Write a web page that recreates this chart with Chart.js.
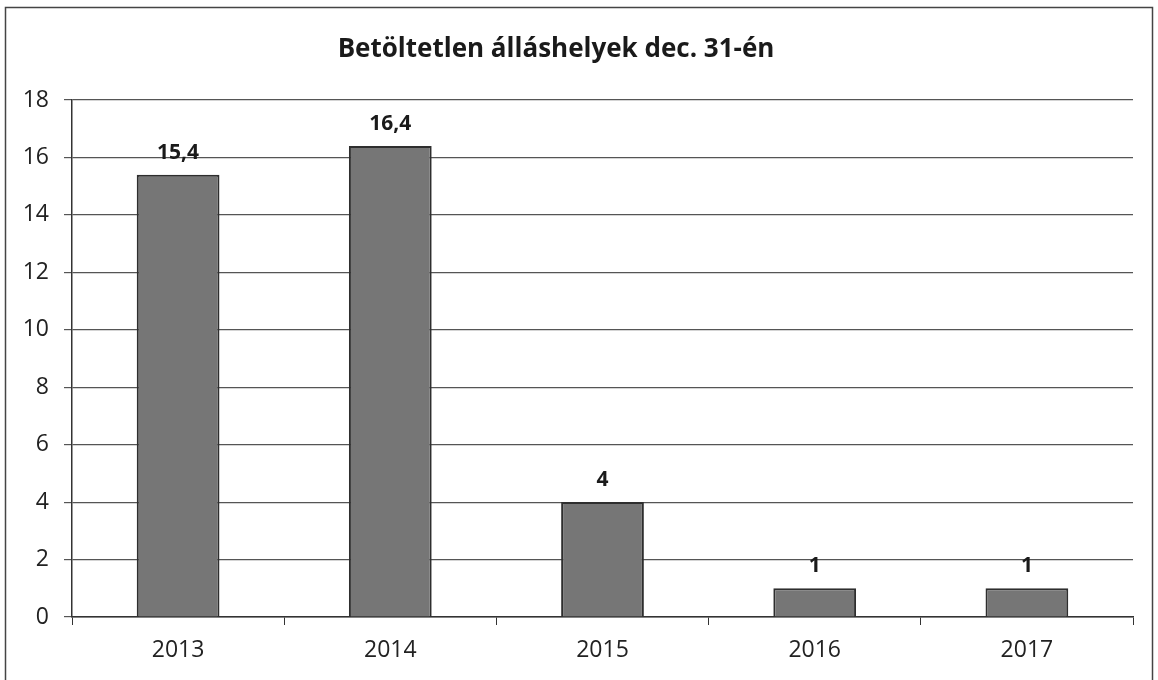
<!DOCTYPE html>
<html>
<head>
<meta charset="utf-8">
<script src="https://cdn.jsdelivr.net/npm/chart.js@4"></script>
<style>
  html, body { margin: 0; padding: 0; background: #fff; }
  #wrap { width: 1158px; height: 680px; }
</style>
</head>
<body>
<div id="wrap"><canvas id="chart" width="1158" height="680"></canvas></div>
<script>
// data
const years = ['2013', '2014', '2015', '2016', '2017'];
const values = [15.4, 16.4, 4, 1, 1];
const valueLabels = ['15,4', '16,4', '4', '1', '1'];
const yTicks = [0, 2, 4, 6, 8, 10, 12, 14, 16, 18];
const titleText = 'Betöltetlen álláshelyek dec. 31-én';

const fontFamily = '"Open Sans", "DejaVu Sans", sans-serif';

// frame + title + value labels drawn by hand
const decorPlugin = {
    id: 'decor',
    beforeDraw(chart) {
        const ctx = chart.ctx;
        ctx.save();
        ctx.fillStyle = '#fff';
        ctx.fillRect(0, 0, chart.width, chart.height);
        ctx.strokeStyle = '#444';
        ctx.lineWidth = 1.5;
        ctx.strokeRect(5.5, 7.5, 1147, 700);
        ctx.restore();
    },
    afterDatasetsDraw(chart) {
        const ctx = chart.ctx;
        ctx.save();
        // title
        ctx.fillStyle = '#1a1a1a';
        ctx.font = 'bold 26px ' + fontFamily;
        ctx.textAlign = 'center';
        ctx.textBaseline = 'middle';
        ctx.fillText(titleText, 556, 50);
        // values above the bars
        ctx.font = 'bold 21px ' + fontFamily;
        const meta = chart.getDatasetMeta(0);
        meta.data.forEach((bar, i) => {
            ctx.fillText(valueLabels[i], bar.x, bar.y - 22);
        });
        ctx.restore();
    }
};

new Chart(document.getElementById('chart'), {
    type: 'bar',
    plugins: [decorPlugin],
    data: {
        labels: years,
        datasets: [{
            data: values,
            backgroundColor: '#767676',
            borderColor: '#2e2e2e',
            borderWidth: 2,
            borderSkipped: 'bottom',
            barPercentage: 0.39,
            categoryPercentage: 1
        }]
    },
    options: {
        responsive: false,
        animation: false,
        layout: { padding: { left: 0, right: 25, top: 100, bottom: 0 } },
        plugins: {
            legend: { display: false },
            title: { display: false },
            tooltip: { enabled: false }
        },
        scales: {
            x: {
                grid: { drawOnChartArea: false, drawTicks: true, tickLength: 8, color: '#333' },
                border: { display: true, color: '#333', width: 1.5 },
                ticks: { color: '#222', font: { family: fontFamily, size: 23 }, padding: 12 },
                afterFit(scale) { scale.height = 63; }
            },
            y: {
                min: 0,
                max: 18,
                afterBuildTicks(scale) { scale.ticks = yTicks.map(v => ({ value: v })); },
                grid: { color: '#555', lineWidth: 1.2, tickLength: 8 },
                border: { display: true, color: '#333', width: 1.5 },
                ticks: { color: '#222', font: { family: fontFamily, size: 23 }, padding: 15 },
                afterFit(scale) { scale.width = 72; }
            }
        }
    }
});
</script>
</body>
</html>
